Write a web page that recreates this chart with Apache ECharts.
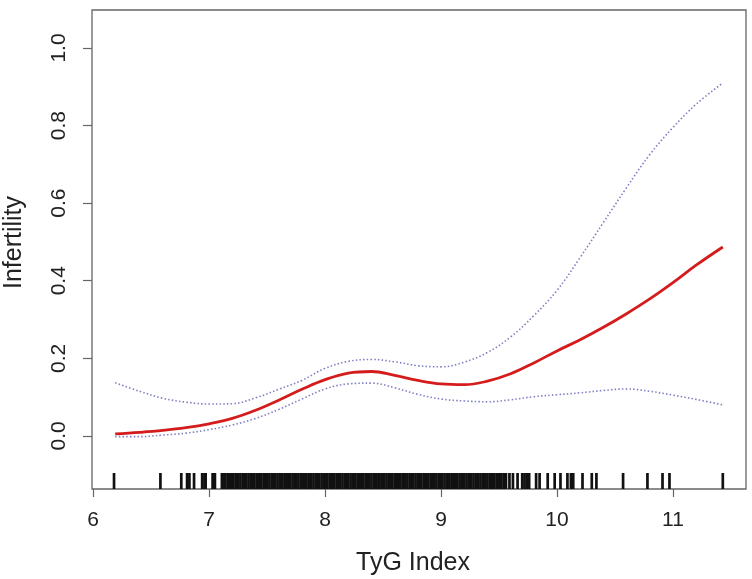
<!DOCTYPE html>
<html>
<head>
<meta charset="utf-8">
<script src="https://cdn.jsdelivr.net/npm/echarts@6/dist/echarts.min.js"></script>
<style>
html,body{margin:0;padding:0;background:#fff;}
#chart{width:752px;height:579px;}
</style>
</head>
<body>
<div id="chart"></div>
<script>
// x positions (TyG Index) where the curves were read
const tygX = [6.19, 6.4, 6.6, 6.8, 7.0, 7.2, 7.4, 7.6, 7.8, 8.0, 8.2, 8.4, 8.6, 8.8, 9.0, 9.2, 9.4, 9.6, 9.8, 10.0, 10.2, 10.4, 10.6, 10.8, 11.0, 11.2, 11.43];
// fitted probability of infertility
const fitY = [0.005, 0.009, 0.014, 0.021, 0.031, 0.045, 0.066, 0.092, 0.120, 0.145, 0.162, 0.166, 0.156, 0.143, 0.134, 0.132, 0.141, 0.160, 0.188, 0.219, 0.248, 0.280, 0.315, 0.353, 0.395, 0.440, 0.487];
// upper 95% CI
const upperY = [0.137, 0.115, 0.097, 0.087, 0.082, 0.083, 0.098, 0.120, 0.143, 0.174, 0.192, 0.197, 0.191, 0.181, 0.178, 0.190, 0.215, 0.255, 0.310, 0.375, 0.460, 0.550, 0.640, 0.725, 0.795, 0.855, 0.910];
// lower 95% CI
const lowerY = [-0.002, -0.002, 0.002, 0.007, 0.016, 0.028, 0.045, 0.068, 0.095, 0.121, 0.134, 0.136, 0.124, 0.107, 0.095, 0.090, 0.088, 0.093, 0.101, 0.106, 0.111, 0.117, 0.121, 0.115, 0.105, 0.094, 0.080];
// rug: observed TyG values
const rugX = [6.18, 6.58, 6.76, 6.81, 6.83, 6.87, 6.94, 6.96, 6.97, 7.03, 7.04, 7.05, 7.11, 7.13, 7.14, 7.16,
  7.18, 7.20, 7.21, 7.23, 7.25, 7.27, 7.29, 7.30, 7.32, 7.34, 7.36, 7.38, 7.39, 7.41, 7.43, 7.45, 7.47, 7.48, 7.50,
  7.52, 7.54, 7.56, 7.57, 7.59, 7.61, 7.63, 7.65, 7.66, 7.68, 7.70, 7.72, 7.74, 7.75, 7.77, 7.79, 7.81, 7.83, 7.84,
  7.86, 7.88, 7.90, 7.92, 7.93, 7.95, 7.97, 7.99, 8.01, 8.02, 8.04, 8.06, 8.08, 8.10, 8.11, 8.13, 8.15, 8.17, 8.19,
  8.20, 8.22, 8.24, 8.26, 8.28, 8.29, 8.31, 8.33, 8.35, 8.37, 8.38, 8.40, 8.42, 8.44, 8.46, 8.47, 8.49, 8.51, 8.53,
  8.55, 8.56, 8.58, 8.60, 8.62, 8.64, 8.65, 8.67, 8.69, 8.71, 8.73, 8.74, 8.76, 8.78, 8.80, 8.82, 8.83, 8.85, 8.87,
  8.89, 8.91, 8.92, 8.94, 8.96, 8.98, 9.00, 9.01, 9.03, 9.05, 9.07, 9.09, 9.10, 9.12, 9.14, 9.16, 9.18, 9.20, 9.22,
  9.24, 9.26, 9.28, 9.30, 9.32, 9.34, 9.36, 9.38, 9.40, 9.42, 9.44, 9.46, 9.48, 9.50, 9.52, 9.54, 9.56,
  9.59, 9.62, 9.66, 9.70, 9.72, 9.74, 9.76, 9.82, 9.85, 9.92, 9.98, 10.03, 10.09, 10.12, 10.14, 10.22, 10.30, 10.34,
  10.57, 10.78, 10.91, 10.97, 11.43];
// tick labels
const xTicks = [6, 7, 8, 9, 10, 11];
const yTicks = [0, 0.2, 0.4, 0.6, 0.8, 1.0];

const X_MIN = 5.99, X_MAX = 11.63, Y_MIN = -0.137, Y_MAX = 1.098;

const pair = (ys) => tygX.map((x, i) => [x, ys[i]]);
const FONT = 'Liberation Sans, Arial, sans-serif';
const chart = echarts.init(document.getElementById('chart'), null, {renderer: 'canvas'});

chart.setOption({
  animation: false,
  backgroundColor: '#ffffff',
  grid: {
    left: 92, right: 6, top: 10, bottom: 90,
    containLabel: false, outerBoundsMode: 'none',
    show: true, borderColor: '#666666', borderWidth: 1.3, backgroundColor: 'transparent'
  },
  xAxis: {
    type: 'value', min: X_MIN, max: X_MAX, position: 'bottom',
    name: 'TyG Index', nameLocation: 'middle', nameGap: 62,
    nameTextStyle: {fontFamily: FONT, fontSize: 25, color: '#222', padding: [0, 12, 0, 0]},
    axisLine: {show: false, onZero: false},
    axisTick: {show: true, inside: false, length: 8, customValues: xTicks, lineStyle: {color: '#666666', width: 1.2}},
    axisLabel: {show: true, customValues: xTicks, margin: 21, fontFamily: FONT, fontSize: 21, color: '#222',
      formatter: (v) => String(Math.round(v))},
    splitLine: {show: false}
  },
  yAxis: {
    type: 'value', min: Y_MIN, max: Y_MAX, position: 'left',
    name: 'Infertility', nameLocation: 'middle', nameGap: 65, nameRotate: 90,
    nameTextStyle: {fontFamily: FONT, fontSize: 25, color: '#222', padding: [0, 0, 0, 14]},
    axisLine: {show: false, onZero: false},
    axisTick: {show: true, inside: false, length: 9, customValues: yTicks, lineStyle: {color: '#666666', width: 1.2}},
    axisLabel: {show: true, customValues: yTicks, rotate: 90, margin: 22, fontFamily: FONT, fontSize: 21, color: '#222',
      formatter: (v) => v.toFixed(1)},
    splitLine: {show: false}
  },
  series: [
    {
      type: 'custom', name: 'rug', silent: true,
      data: rugX.map(v => [v, Y_MIN]),
      renderItem: function (params, api) {
        const p = api.coord([api.value(0), api.value(1)]);
        return {type: 'line', shape: {x1: p[0], y1: p[1], x2: p[0], y2: p[1] - 16},
          style: {stroke: '#111111', lineWidth: 2.7}};
      },
      clip: true
    },
    {
      type: 'line', name: 'upper', data: pair(upperY), smooth: 0.4, showSymbol: false,
      lineStyle: {color: '#7f7fc4', width: 1.6, type: [1.5, 2.2]}
    },
    {
      type: 'line', name: 'lower', data: pair(lowerY), smooth: 0.4, showSymbol: false,
      lineStyle: {color: '#7f7fc4', width: 1.6, type: [1.5, 2.2]}
    },
    {
      type: 'line', name: 'fit', data: pair(fitY), smooth: 0.4, showSymbol: false,
      lineStyle: {color: '#d41c1c', width: 2.8}
    }
  ]
});
</script>
</body>
</html>
